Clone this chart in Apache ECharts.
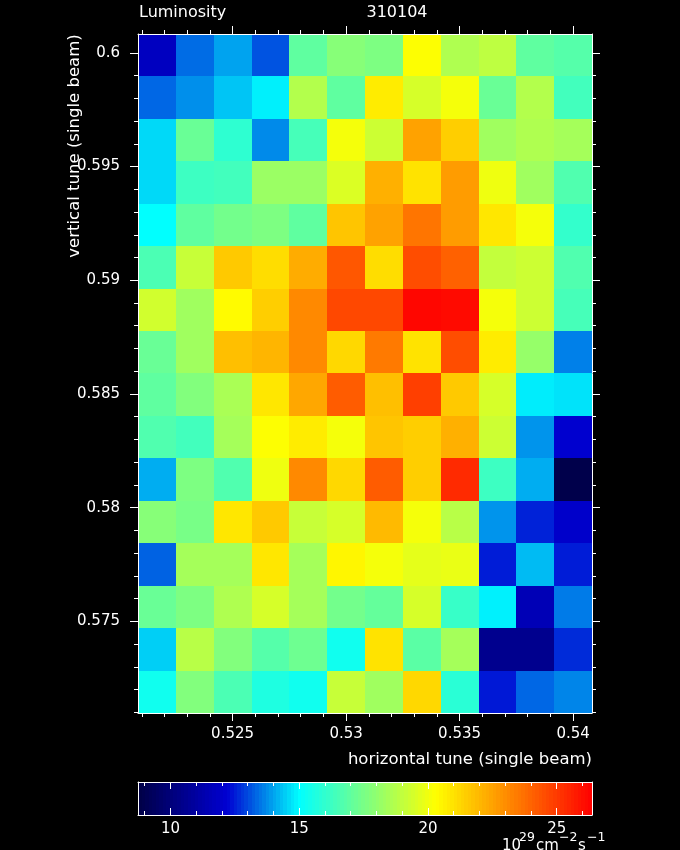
<!DOCTYPE html>
<html>
<head>
<meta charset="utf-8">
<script src="https://cdn.jsdelivr.net/npm/echarts@6/dist/echarts.min.js"></script>
<style>
html,body{margin:0;padding:0;background:#000;}
#chart{width:680px;height:850px;}
</style>
</head>
<body>
<div id="chart"></div>
<script>
// ---------------- data ----------------
const titleText = 'Luminosity';
const runText = '310104';
const xName = 'horizontal tune (single beam)';
const yName = 'vertical tune (single beam)';

// column centres (horizontal tune)
const xTunes = [0.521667, 0.523333, 0.525, 0.526667, 0.528333, 0.53,
                0.531667, 0.533333, 0.535, 0.536667, 0.538333, 0.54];
// row centres (vertical tune), top row first
const yTunes = [0.59990, 0.59803, 0.59617, 0.59430, 0.59243, 0.59057, 0.58870, 0.58683,
                0.58497, 0.58310, 0.58123, 0.57937, 0.57750, 0.57563, 0.57377, 0.57190];
// luminosity [10^29 cm^-2 s^-1], one row per yTunes entry, columns follow xTunes
const luminosity = [
  [11.7, 13.35, 13.96, 13.08, 16.97, 17.8, 17.6, 20.3, 18.64, 18.95, 16.97, 16.77],
  [13.3, 13.74, 14.34, 14.81, 18.74, 16.97, 20.78, 19.47, 20.1, 17.18, 18.74, 16.35],
  [14.56, 17.18, 15.94, 13.68, 16.45, 20.1, 19.26, 22.56, 21.49, 18.33, 18.64, 18.43],
  [14.56, 16.25, 16.35, 18.22, 18.22, 19.57, 22.2, 21.01, 22.68, 19.99, 18.33, 16.66],
  [15.0, 16.97, 17.39, 17.6, 16.97, 21.73, 22.56, 23.63, 22.68, 20.9, 20.1, 16.04],
  [16.56, 19.16, 21.61, 21.13, 22.32, 24.35, 21.13, 24.58, 24.1, 19.05, 19.26, 16.66],
  [19.37, 18.33, 20.42, 21.49, 23.16, 24.7, 24.7, 26.3, 26.2, 20.1, 19.26, 16.45],
  [17.18, 18.33, 21.85, 22.09, 23.16, 21.25, 23.51, 21.01, 24.58, 20.78, 18.12, 13.57],
  [16.97, 17.7, 18.53, 20.9, 22.44, 24.23, 21.85, 24.94, 21.61, 19.47, 14.78, 14.67],
  [16.66, 16.35, 18.43, 20.3, 20.78, 20.1, 21.73, 21.49, 22.2, 19.26, 13.8, 12.08],
  [14.07, 17.6, 16.66, 19.99, 23.16, 21.25, 24.23, 21.49, 25.42, 16.25, 14.07, 8.8],
  [17.8, 17.49, 20.9, 21.61, 19.16, 19.47, 21.97, 20.1, 18.84, 13.8, 12.53, 11.96],
  [13.24, 18.43, 18.43, 20.9, 18.43, 20.54, 20.1, 19.78, 19.88, 12.47, 14.23, 12.47],
  [17.18, 17.6, 18.64, 19.47, 18.43, 17.39, 17.08, 19.47, 16.14, 14.83, 11.46, 13.52],
  [14.45, 18.84, 17.7, 16.77, 17.29, 15.31, 21.01, 16.87, 18.43, 10.47, 10.47, 12.64],
  [15.31, 17.7, 16.56, 15.62, 15.31, 19.16, 18.33, 21.25, 15.83, 12.42, 13.3, 13.63]
];

// axis ranges and ticks
const xRange = [0.520833, 0.540833];
const yRange = [0.57097, 0.60083];
const cbRange = [8.74, 26.37];
const xMajorTicks = [0.525, 0.53, 0.535, 0.54];
const xMinorTicks = [0.521, 0.522, 0.523, 0.524, 0.525, 0.526, 0.527, 0.528, 0.529, 0.53,
                     0.531, 0.532, 0.533, 0.534, 0.535, 0.536, 0.537, 0.538, 0.539, 0.54];
const yMajorTicks = [0.575, 0.58, 0.585, 0.59, 0.595, 0.6];
const yMinorTicks = [0.571, 0.572, 0.573, 0.574, 0.575, 0.576, 0.577, 0.578, 0.579, 0.58,
                     0.581, 0.582, 0.583, 0.584, 0.585, 0.586, 0.587, 0.588, 0.589, 0.59,
                     0.591, 0.592, 0.593, 0.594, 0.595, 0.596, 0.597, 0.598, 0.599, 0.6];
const cbMajorTicks = [10, 15, 20, 25];
const cbMinorTicks = [9, 10, 11, 12, 13, 14, 15, 16, 17, 18, 19, 20, 21, 22, 23, 24, 25, 26];

// ---------------- style ----------------
const FONT = 'DejaVu Sans';
const WHITE = '#ffffff';
const cmapStops = [
  [8.74, [0, 0, 70]],
  [12.2, [0, 0, 210]],
  [15.0, [0, 255, 255]],
  [20.3, [255, 255, 0]],
  [26.37, [255, 0, 0]]
];
function cmap(v) {
  const s = cmapStops;
  if (v <= s[0][0]) return s[0][1];
  for (let i = 1; i < s.length; i++) {
    if (v <= s[i][0]) {
      const t = (v - s[i - 1][0]) / (s[i][0] - s[i - 1][0]);
      return s[i - 1][1].map((c, j) => Math.round(c + (s[i][1][j] - c) * t));
    }
  }
  return s[s.length - 1][1];
}
const rgb = c => 'rgb(' + c[0] + ',' + c[1] + ',' + c[2] + ')';
const NCOL = 128;
const paletteColors = [];
const barStops = [];
for (let k = 0; k < NCOL; k++) {
  const v = cbRange[0] + (cbRange[1] - cbRange[0]) * (k + 0.5) / NCOL;
  const col = rgb(cmap(v));
  paletteColors.push(col);
  barStops.push({offset: k / NCOL, color: col});
  barStops.push({offset: (k + 1) / NCOL, color: col});
}

// cells built from the data arrays
const cells = [];
luminosity.forEach((row, r) => row.forEach((v, c) => cells.push([xTunes[c], yTunes[r], v])));
const dx = Math.abs(xTunes[1] - xTunes[0]);
const dy = Math.abs(yTunes[0] - yTunes[1]);

function baseAxis(o) {
  return Object.assign({
    type: 'value', scale: true, z: 10,
    splitLine: {show: false}, axisLine: {show: false},
    axisLabel: {show: false}, axisTick: {show: false}, axisPointer: {show: false}
  }, o);
}
function ticks(values, len, inside) {
  return {show: true, customValues: values, length: len, inside: !!inside,
          lineStyle: {color: WHITE, width: 1}};
}
function labels(values, margin) {
  return {show: true, customValues: values, margin: margin, color: WHITE,
          fontFamily: FONT, fontSize: 15, formatter: v => String(v)};
}
const line = {show: true, lineStyle: {color: WHITE, width: 1}};

const xAxes = [
  baseAxis({gridIndex: 0, position: 'bottom', min: xRange[0], max: xRange[1], axisLine: line,
            axisTick: ticks(xMajorTicks, 8), axisLabel: labels(xMajorTicks, 14)}),
  baseAxis({gridIndex: 0, position: 'bottom', min: xRange[0], max: xRange[1], axisTick: ticks(xMinorTicks, 4)}),
  baseAxis({gridIndex: 0, position: 'top', min: xRange[0], max: xRange[1], axisLine: line, axisTick: ticks(xMajorTicks, 8)}),
  baseAxis({gridIndex: 0, position: 'top', min: xRange[0], max: xRange[1], axisTick: ticks(xMinorTicks, 4)}),
  baseAxis({gridIndex: 1, position: 'bottom', min: cbRange[0], max: cbRange[1], axisLine: line,
            axisTick: ticks(cbMajorTicks, 7, true), axisLabel: labels(cbMajorTicks, 7)}),
  baseAxis({gridIndex: 1, position: 'bottom', min: cbRange[0], max: cbRange[1], axisTick: ticks(cbMinorTicks, 4, true)}),
  baseAxis({gridIndex: 1, position: 'top', min: cbRange[0], max: cbRange[1], axisLine: line, axisTick: ticks(cbMajorTicks, 7, true)}),
  baseAxis({gridIndex: 1, position: 'top', min: cbRange[0], max: cbRange[1], axisTick: ticks(cbMinorTicks, 4, true)})
];
const yAxes = [
  baseAxis({gridIndex: 0, position: 'left', min: yRange[0], max: yRange[1], axisLine: line,
            axisTick: ticks(yMajorTicks, 8), axisLabel: labels(yMajorTicks, 18)}),
  baseAxis({gridIndex: 0, position: 'left', min: yRange[0], max: yRange[1], axisTick: ticks(yMinorTicks, 4)}),
  baseAxis({gridIndex: 0, position: 'right', min: yRange[0], max: yRange[1], axisLine: line, axisTick: ticks(yMajorTicks, 8)}),
  baseAxis({gridIndex: 0, position: 'right', min: yRange[0], max: yRange[1], axisTick: ticks(yMinorTicks, 4)}),
  baseAxis({gridIndex: 1, position: 'left', min: 0, max: 1, axisLine: line}),
  baseAxis({gridIndex: 1, position: 'right', min: 0, max: 1, axisLine: line})
];

const txt = (text, x, y, size, extra) => ({
  type: 'text', x: x, y: y, silent: true,
  style: Object.assign({text: text, fill: WHITE, fontFamily: FONT, fontSize: size,
                        align: 'left', verticalAlign: 'middle'}, extra || {})
});

const chart = echarts.init(document.getElementById('chart'), null, {renderer: 'canvas'});
chart.setOption({
  backgroundColor: '#000000',
  animation: false,
  grid: [
    {left: 138, top: 34, width: 454, height: 679, containLabel: false},
    {left: 138, top: 782, width: 454, height: 33, containLabel: false}
  ],
  xAxis: xAxes,
  yAxis: yAxes,
  visualMap: {
    show: false, type: 'continuous', min: cbRange[0], max: cbRange[1],
    dimension: 2, seriesIndex: 0, inRange: {color: paletteColors}
  },
  series: [
    {
      type: 'custom', xAxisIndex: 0, yAxisIndex: 0, silent: true, z: 2,
      encode: {x: 0, y: 1},
      data: cells,
      renderItem: function (params, api) {
        const x = api.value(0), y = api.value(1);
        const a = api.coord([x - dx / 2, y + dy / 2]);
        const b = api.coord([x + dx / 2, y - dy / 2]);
        const x0 = Math.round(a[0]), y0 = Math.round(a[1]);
        const x1 = Math.round(b[0]), y1 = Math.round(b[1]);
        return {type: 'rect', shape: {x: x0, y: y0, width: x1 - x0, height: y1 - y0},
                style: {fill: api.visual('color')}};
      }
    },
    {
      type: 'custom', xAxisIndex: 4, yAxisIndex: 4, silent: true, z: 2,
      encode: {x: [0, 1]},
      data: [[cbRange[0], cbRange[1]]],
      renderItem: function (params, api) {
        const a = api.coord([api.value(0), 1]);
        const b = api.coord([api.value(1), 0]);
        return {type: 'rect', shape: {x: a[0], y: a[1], width: b[0] - a[0], height: b[1] - a[1]},
                style: {fill: new echarts.graphic.LinearGradient(0, 0, 1, 0, barStops)}};
      }
    }
  ],
  graphic: [
    txt(titleText, 139, 13, 16),
    txt(runText, 397, 13, 16, {align: 'center'}),
    txt(xName, 592, 760, 16.5, {align: 'right'}),
    Object.assign(txt(yName, 75, 146, 16.5, {align: 'center'}), {rotation: Math.PI / 2}),
    txt('10', 502, 846, 15),
    txt('29', 519, 838, 12.5),
    txt('cm', 536, 846, 15),
    txt('\u22122', 559, 838, 12.5),
    txt('s', 578, 846, 15),
    txt('\u22121', 587, 838, 12.5)
  ]
});
</script>
</body>
</html>
